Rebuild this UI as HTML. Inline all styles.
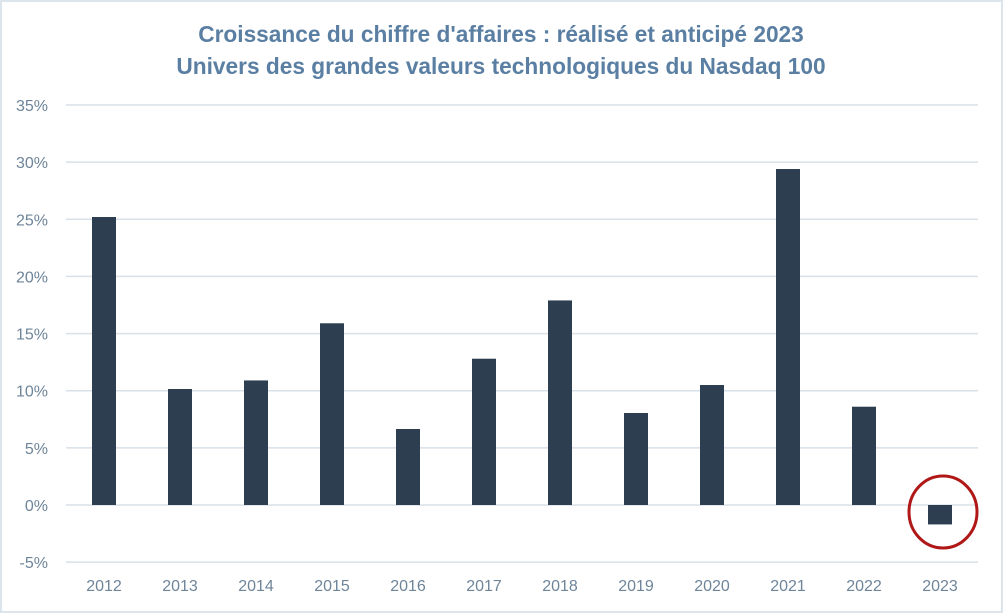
<!DOCTYPE html>
<html><head><meta charset="utf-8"><style>
html,body{margin:0;padding:0;background:#fff}
svg{display:block}
text{font-family:"Liberation Sans",sans-serif}
</style></head><body>
<svg width="1003" height="613" id="c">
<rect x="1" y="1" width="1001" height="611" fill="#fff" stroke="#dce4ec" stroke-width="2"/>
<text x="501" y="42" text-anchor="middle" font-size="22.7" font-weight="bold" fill="#5a7fa3">Croissance du chiffre d'affaires : réalisé et anticipé 2023</text>
<text x="501" y="74" text-anchor="middle" font-size="22.7" font-weight="bold" fill="#5a7fa3">Univers des grandes valeurs technologiques du Nasdaq 100</text>
<g id="grid"></g><g id="bars"></g><g id="xl"></g>
<ellipse cx="943" cy="512" rx="34" ry="36" fill="none" stroke="#b01818" stroke-width="3"/>
</svg>
<script>
const categories=["2012","2013","2014","2015","2016","2017","2018","2019","2020","2021","2022","2023"];
const values=[25.2,10.15,10.9,15.9,6.65,12.8,17.9,8.05,10.5,29.4,8.6,-1.7];
const ticks=[-5,0,5,10,15,20,25,30,35];
const NS="http://www.w3.org/2000/svg";
const x0=66,x1=978,bw=(x1-x0)/categories.length;
const y=v=>505-v*(400/35);
const xc=i=>x0+bw*(i+0.5);
function mk(t,a,p){const e=document.createElementNS(NS,t);for(const k in a)e.setAttribute(k,a[k]);p.appendChild(e);return e;}
const g=document.getElementById('grid'),b=document.getElementById('bars'),xl=document.getElementById('xl');
ticks.forEach(t=>{
 const l=mk('line',{x1:x0,x2:x1,y1:y(t),y2:y(t),stroke:'#d9e1e8','stroke-width':1.5},g);
 
 
 const tx=mk('text',{x:48,y:y(t)+6,'text-anchor':'end','font-size':16,fill:'#6e8499'},g);
 tx.textContent=t+'%';
 
 
});
categories.forEach((c,i)=>{
 const v=values[i];
 const r=mk('rect',{x:xc(i)-12,width:24,y:Math.min(y(v),y(0)),height:Math.abs(y(v)-y(0)),fill:'#2c3e4f'},b);
 
 
 const t=mk('text',{x:xc(i),y:591,'text-anchor':'middle','font-size':16,fill:'#6e8499'},xl);
 t.textContent=c;
 
 
});
</script>
</body></html>
